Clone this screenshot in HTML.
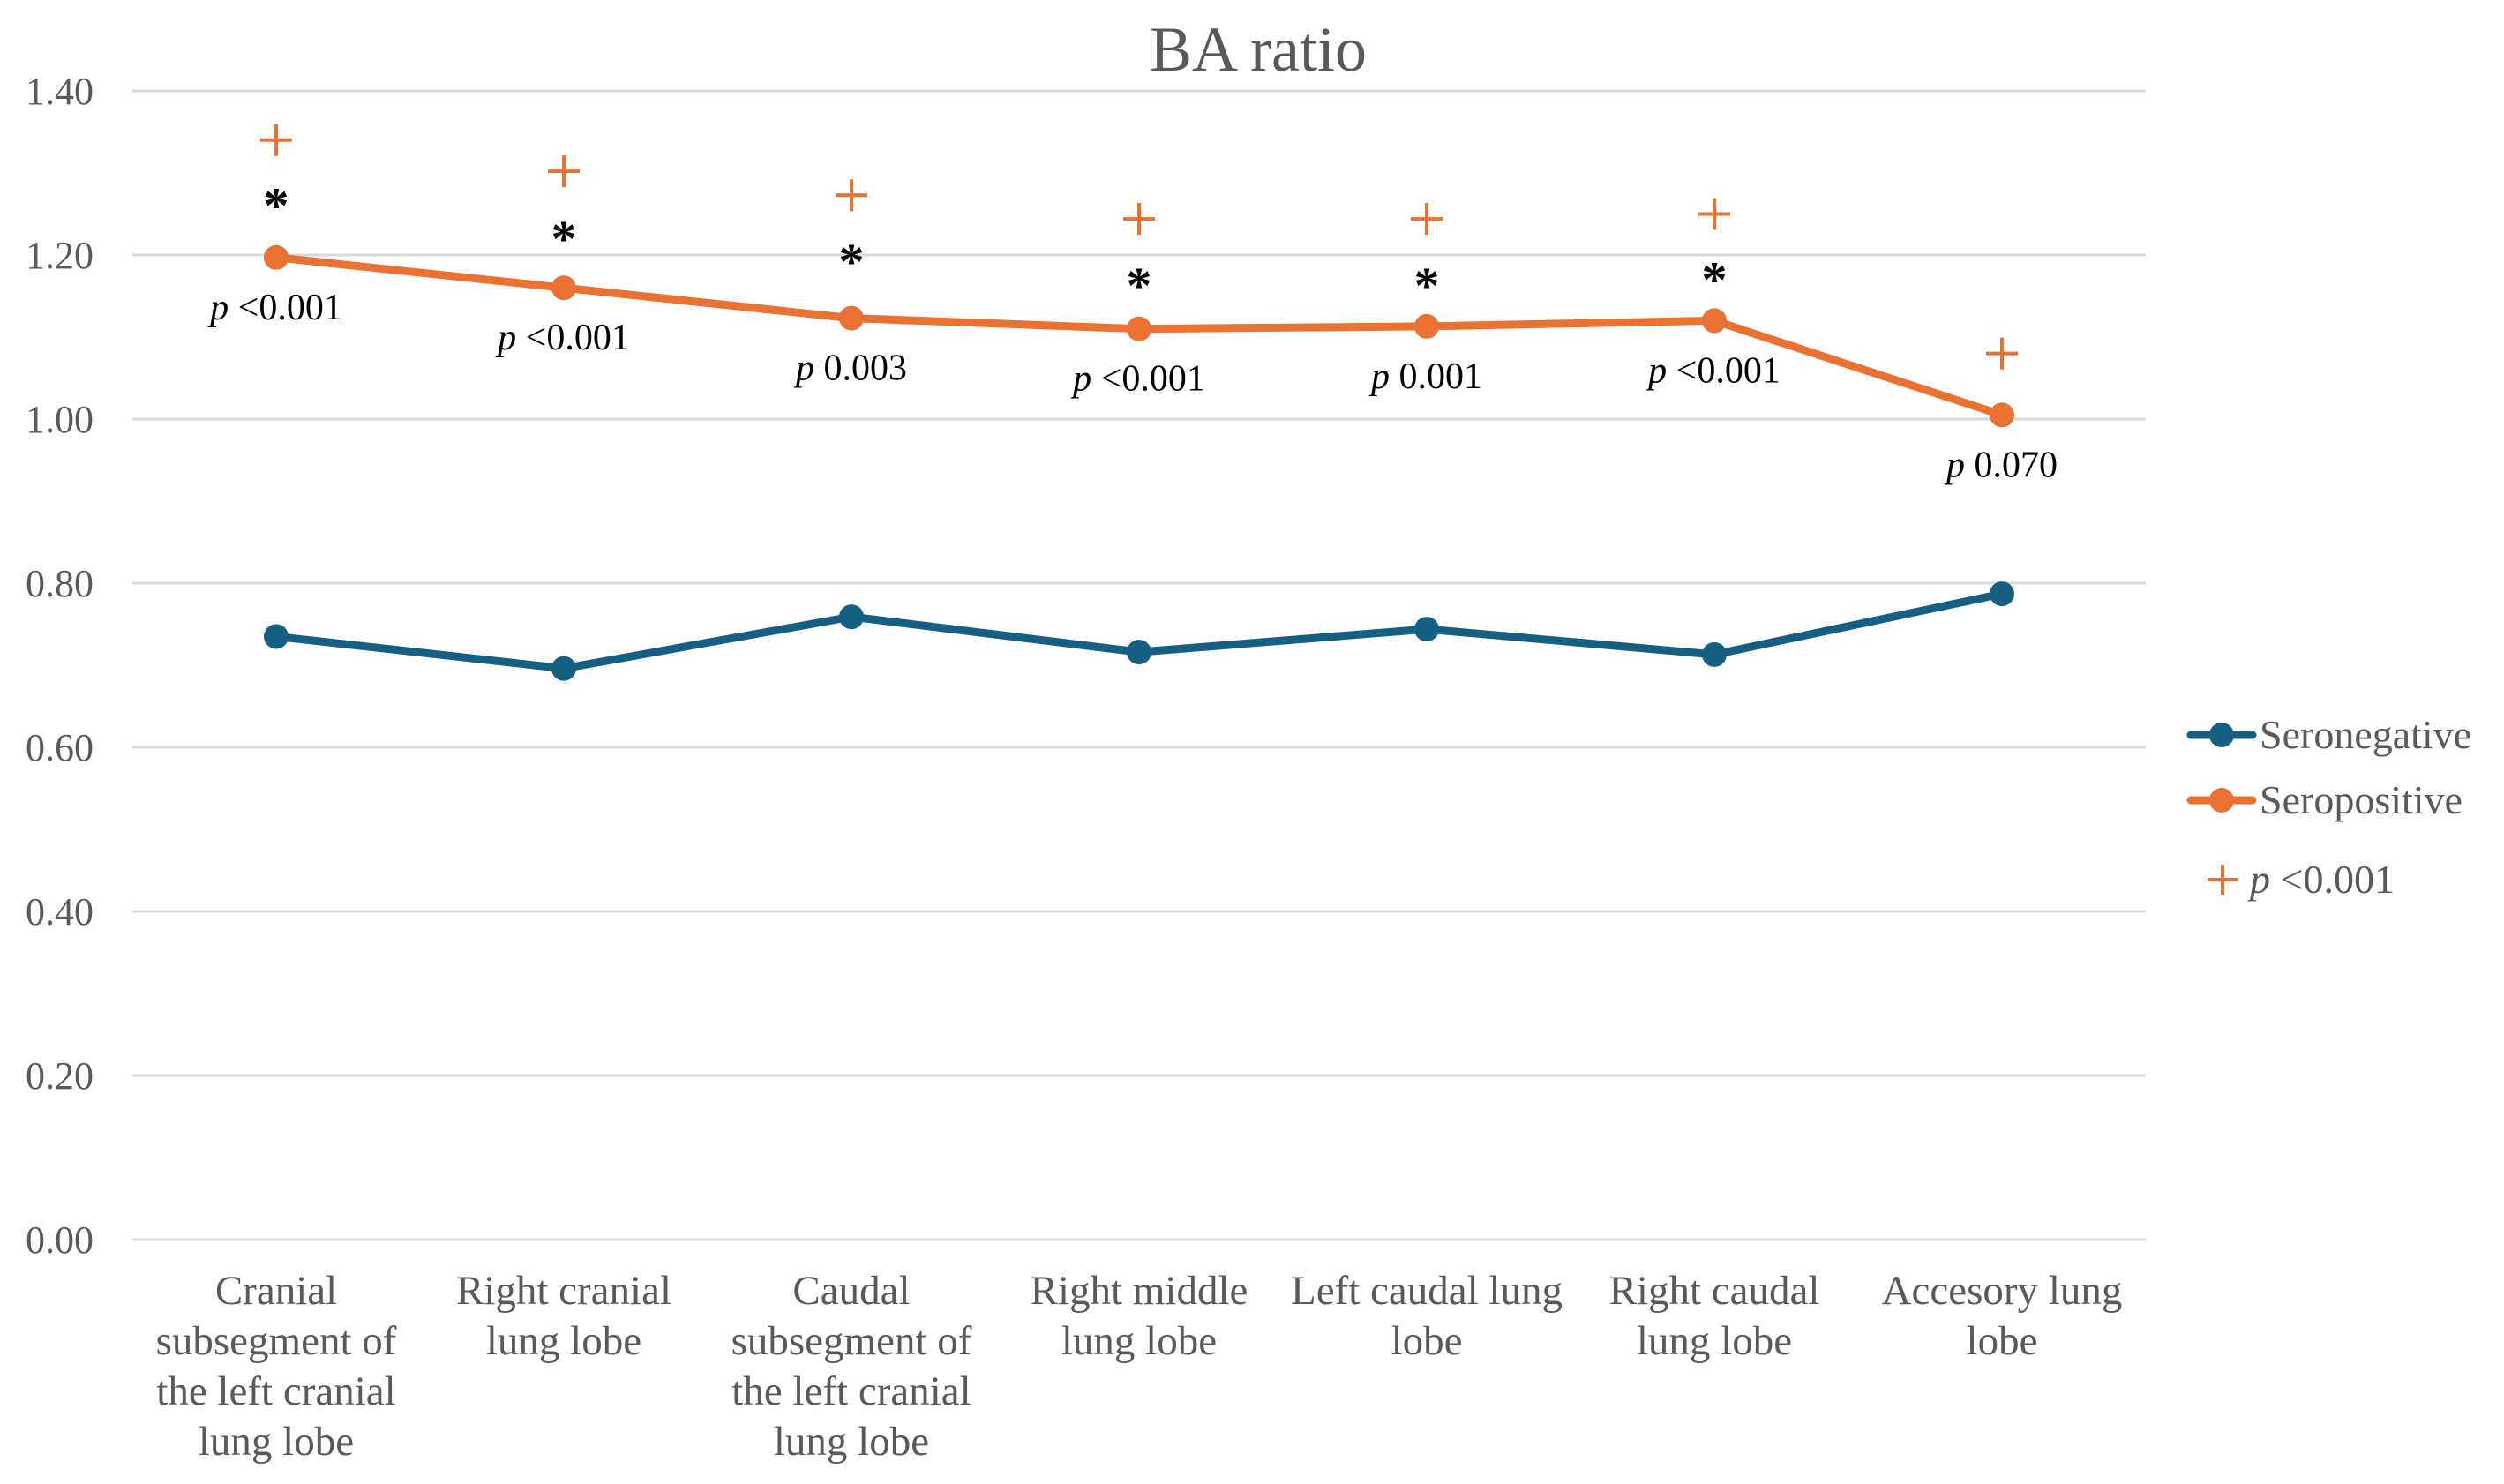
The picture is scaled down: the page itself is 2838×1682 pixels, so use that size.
<!DOCTYPE html>
<html><head><meta charset="utf-8"><style>
html,body{margin:0;padding:0;background:#fff;}
svg{display:block;font-family:"Liberation Serif",serif;}
</style></head><body>
<svg id="chart" width="2838" height="1682" viewBox="0 0 2838 1682" xmlns="http://www.w3.org/2000/svg">
<text x="1426" y="80" font-size="72" fill="#595959" text-anchor="middle">BA ratio</text>
<g id="grid"></g>
<g id="yticks"></g>
<g id="xlabels"></g>
<g id="series"></g>
<g id="annot"></g>
<g>
  <g>
    <line x1="2483" y1="833" x2="2553" y2="833" stroke="#156082" stroke-width="9" stroke-linecap="round"/>
    <circle cx="2518" cy="833" r="14" fill="#156082"/>
    <text x="2561" y="848" font-size="46" fill="#595959">Seronegative</text>
  </g>
  <g>
    <line x1="2483" y1="907" x2="2553" y2="907" stroke="#e97132" stroke-width="9" stroke-linecap="round"/>
    <circle cx="2518" cy="907" r="14" fill="#e97132"/>
    <text x="2561" y="922" font-size="46" fill="#595959">Seropositive</text>
  </g>
  <g>
    <line x1="2502" y1="997" x2="2536" y2="997" stroke="#e97132" stroke-width="4"/>
    <line x1="2519" y1="980" x2="2519" y2="1014" stroke="#e97132" stroke-width="4"/>
    <text x="2550" y="1012" font-size="46" fill="#595959"><tspan font-style="italic">p</tspan> &lt;0.001</text>
  </g>
</g>
</svg>
<script>
const categories = [
  ["Cranial","subsegment of","the left cranial","lung lobe"],
  ["Right cranial","lung lobe"],
  ["Caudal","subsegment of","the left cranial","lung lobe"],
  ["Right middle","lung lobe"],
  ["Left caudal lung","lobe"],
  ["Right caudal","lung lobe"],
  ["Accesory lung","lobe"]
];
const seronegative = [0.735,0.696,0.759,0.716,0.744,0.713,0.787];
const seropositive = [1.197,1.160,1.123,1.110,1.113,1.120,1.005];
const plusValues = [1.340,1.302,1.273,1.244,1.244,1.250,1.080];
const starValues = [1.265,1.225,1.197,1.168,1.168,1.175,null];
const pLabels = ["<0.001","<0.001","0.003","<0.001","0.001","<0.001","0.070"];
const yTicks = [0,0.2,0.4,0.6,0.8,1.0,1.2,1.4];
const yTickLabels = ["0.00","0.20","0.40","0.60","0.80","1.00","1.20","1.40"];

const NS="http://www.w3.org/2000/svg";
const plotL=150, plotR=2432, y0=1405, y14=103;
const band=(plotR-plotL)/categories.length;
function xs(i){return plotL+band*(i+0.5);}
function ys(v){return y0-(v/1.4)*(y0-y14);}
function mk(tag,attrs,parent){const e=document.createElementNS(NS,tag);for(const k in attrs)e.setAttribute(k,attrs[k]);parent.appendChild(e);return e;}

const grid=document.getElementById('grid'), yt=document.getElementById('yticks');
yTicks.forEach((v,i)=>{
  const l=mk('line',{x1:plotL,x2:plotR,y1:ys(v),y2:ys(v),stroke:'#d9d9d9','stroke-width':3},grid);
  
  
  const t=mk('text',{x:106,y:ys(v)+15,'font-size':44,fill:'#595959','text-anchor':'end'},yt);
  
  
  t.textContent=yTickLabels[i];
});

const xl=document.getElementById('xlabels');
categories.forEach((lines,i)=>{
  const t=mk('text',{'font-size':47,fill:'#595959','text-anchor':'middle'},xl);
  
  
  lines.forEach((s,j)=>{const ts=mk('tspan',{x:xs(i),y:1478+j*57},t);ts.textContent=s;});
});

const ser=document.getElementById('series');
function drawSeries(vals,color,name){
  const g=mk('g',{},ser);
  
  
  const pts=vals.map((v,i)=>xs(i)+','+ys(v)).join(' ');
  mk('polyline',{points:pts,fill:'none',stroke:color,'stroke-width':9,'stroke-linejoin':'round','stroke-linecap':'round'},g);
  vals.forEach((v,i)=>{
    const c=mk('circle',{cx:xs(i),cy:ys(v),r:14,fill:color},g);
    
    
  });
}
drawSeries(seronegative,'#156082','seronegative-line');
drawSeries(seropositive,'#e97132','seropositive-line');

const an=document.getElementById('annot');
plusValues.forEach((v,i)=>{
  const g=mk('g',{stroke:'#e97132','stroke-width':4},an);
  
  
  const x=xs(i), y=ys(v);
  mk('line',{x1:x-18,x2:x+18,y1:y,y2:y},g);
  mk('line',{x1:x,x2:x,y1:y-18,y2:y+18},g);
});
starValues.forEach((v,i)=>{
  if(v===null)return;
  const t=mk('text',{x:xs(i),y:ys(v)+24,'font-size':58,'font-weight':'bold',fill:'#000','text-anchor':'middle'},an);
  
  
  t.textContent='*';
});
pLabels.forEach((s,i)=>{
  const t=mk('text',{x:xs(i),y:ys(seropositive[i])+70,'font-size':42,fill:'#000','text-anchor':'middle'},an);
  
  
  const p=mk('tspan',{'font-style':'italic'},t);p.textContent='p';
  const r=mk('tspan',{},t);r.textContent=' '+s;
});
</script>
</body></html>
